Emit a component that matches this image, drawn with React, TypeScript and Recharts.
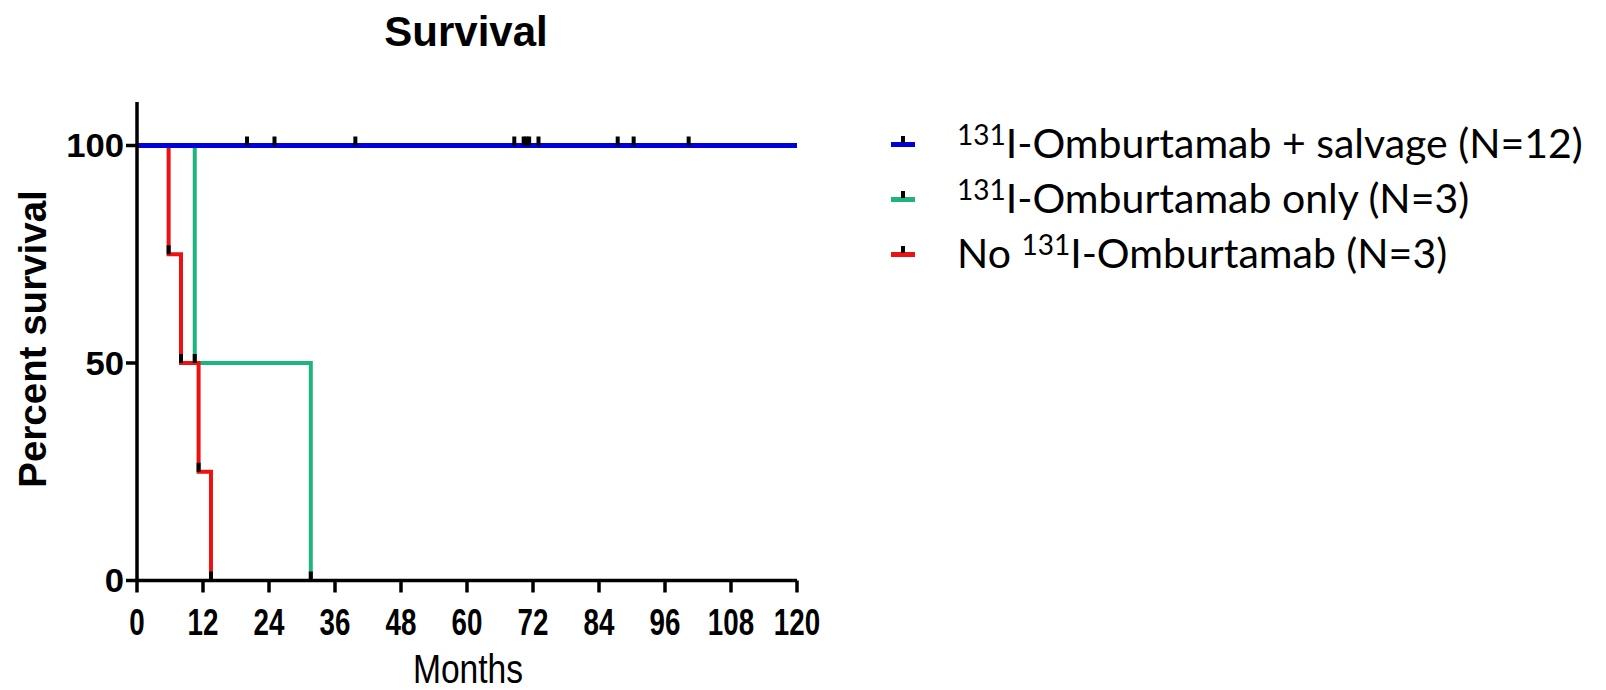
import { ComposedChart, Line, XAxis, YAxis } from "recharts";

const monthTicks = [0, 12, 24, 36, 48, 60, 72, 84, 96, 108, 120];
const percentTicks = [0, 50, 100];

// 131I-Omburtamab + salvage: nobody died, ticks = censored patients
const salvageMonths = [0, 20, 25, 39.7, 68.6, 70.3, 70.8, 71.3, 73, 87.4, 90.3, 100.3, 120];
const salvageSurvival = [100, 100, 100, 100, 100, 100, 100, 100, 100, 100, 100, 100, 100];

const onlyMonths = [0, 10.5, 31.6];
const onlySurvival = [100, 50, 0];

const noneMonths = [0, 5.75, 8, 11.2, 13.45];
const noneSurvival = [100, 75, 50, 25, 0];

const seriesNames = ["I-Omburtamab + salvage (N=12)", "I-Omburtamab only (N=3)", "I-Omburtamab (N=3)"];
const seriesPrefix = ["", "", "No "];
const seriesColors = ["#0000dd", "#1fb37e", "#ee1111"];

const toRows = (months: number[], surv: number[], lastCensored = false) =>
  months.map((t, i) => ({ t, s: surv[i], mark: i > 0 && !(lastCensored && i === months.length - 1) }));

const salvageData = toRows(salvageMonths, salvageSurvival, true);
const onlyData = toRows(onlyMonths, onlySurvival);
const noneData = toRows(noneMonths, noneSurvival);

const sans = "'Liberation Sans', Arial, sans-serif";

const tickDot = (props: any) => {
  const { cx, cy, payload, index } = props;
  if (!payload?.mark) return <g key={`d${index}`} />;
  return <rect key={`d${index}`} x={cx - 2} y={cy - 9} width={4} height={9} fill="#000" />;
};

// x labels are condensed in the original export, y labels are not
const XTick = (props: any) => {
  const { x, y, payload } = props;
  return (
    <text
      transform={`translate(${x},${y}) scale(0.75,1)`}
      textAnchor="middle"
      dy="0.71em"
      fill="#000"
      fontFamily={sans}
      fontWeight={700}
      fontSize={37}
    >
      {payload.value}
    </text>
  );
};

const YTick = (props: any) => {
  const { x, y, payload } = props;
  return (
    <text
      transform={`translate(${x},${y}) scale(1.05,1)`}
      textAnchor="end"
      dy="0.355em"
      fill="#000"
      fontFamily={sans}
      fontWeight={700}
      fontSize={33}
    >
      {payload.value}
    </text>
  );
};

export default function App() {
  return (
    <div style={{ position: "relative", width: 1606, height: 690, background: "#fff" }}>
      <style>{`body{margin:0}`}</style>
      <ComposedChart width={1606} height={690} margin={{ top: 102, right: 809, bottom: 0, left: 0 }}>
        <XAxis
          dataKey="t"
          type="number"
          domain={[0, 120]}
          ticks={monthTicks}
          interval={0}
          height={109.5}
          tickSize={12}
          tickMargin={16}
          stroke="#000"
          strokeWidth={3.5}
          tick={<XTick />}
        />
        <YAxis
          type="number"
          domain={[0, 110]}
          ticks={percentTicks}
          width={137}
          tickSize={11}
          tickMargin={2}
          stroke="#000"
          strokeWidth={3.5}
          tick={<YTick />}
        />
        <Line
          data={onlyData}
          dataKey="s"
          type="stepAfter"
          stroke={seriesColors[1]}
          strokeWidth={4}
          dot={tickDot}
          activeDot={false}
          isAnimationActive={false}
        />
        <Line
          data={noneData}
          dataKey="s"
          type="stepAfter"
          stroke={seriesColors[2]}
          strokeWidth={4}
          dot={tickDot}
          activeDot={false}
          isAnimationActive={false}
        />
        <Line
          data={salvageData}
          dataKey="s"
          type="stepAfter"
          stroke={seriesColors[0]}
          strokeWidth={5}
          dot={tickDot}
          activeDot={false}
          isAnimationActive={false}
        />
      </ComposedChart>
      <svg width={1606} height={690} style={{ position: "absolute", left: 0, top: 0, pointerEvents: "none" }}>
        <text x={466} y={46} textAnchor="middle" fontFamily={sans} fontWeight={700} fontSize={42}>
          Survival
        </text>
        <text
          transform="translate(46,339) rotate(-90)"
          textAnchor="middle"
          fontFamily={sans}
          fontWeight={700}
          fontSize={38.5}
        >
          Percent survival
        </text>
        <text transform="translate(468,683) scale(0.82,1)" textAnchor="middle" fontFamily={sans} fontSize={41}>
          Months
        </text>
      </svg>
      <div style={{ position: "absolute", left: 891, top: 115, fontFamily: "Lato, sans-serif", fontSize: 41 }}>
        {seriesNames.map((name, i) => (
          <div key={name} style={{ display: "flex", alignItems: "center", height: 55 }}>
            <svg width={24} height={20} style={{ marginRight: 42 }}>
              <rect x={0} y={9} width={24} height={5} fill={seriesColors[i]} />
              <rect x={10} y={3} width={4} height={7} fill="#000" />
            </svg>
            <span style={{ whiteSpace: "nowrap" }}>
              {seriesPrefix[i]}
              <sup style={{ fontSize: 28, verticalAlign: "0.45em", lineHeight: 0 }}>131</sup>
              {name}
            </span>
          </div>
        ))}
      </div>
    </div>
  );
}
